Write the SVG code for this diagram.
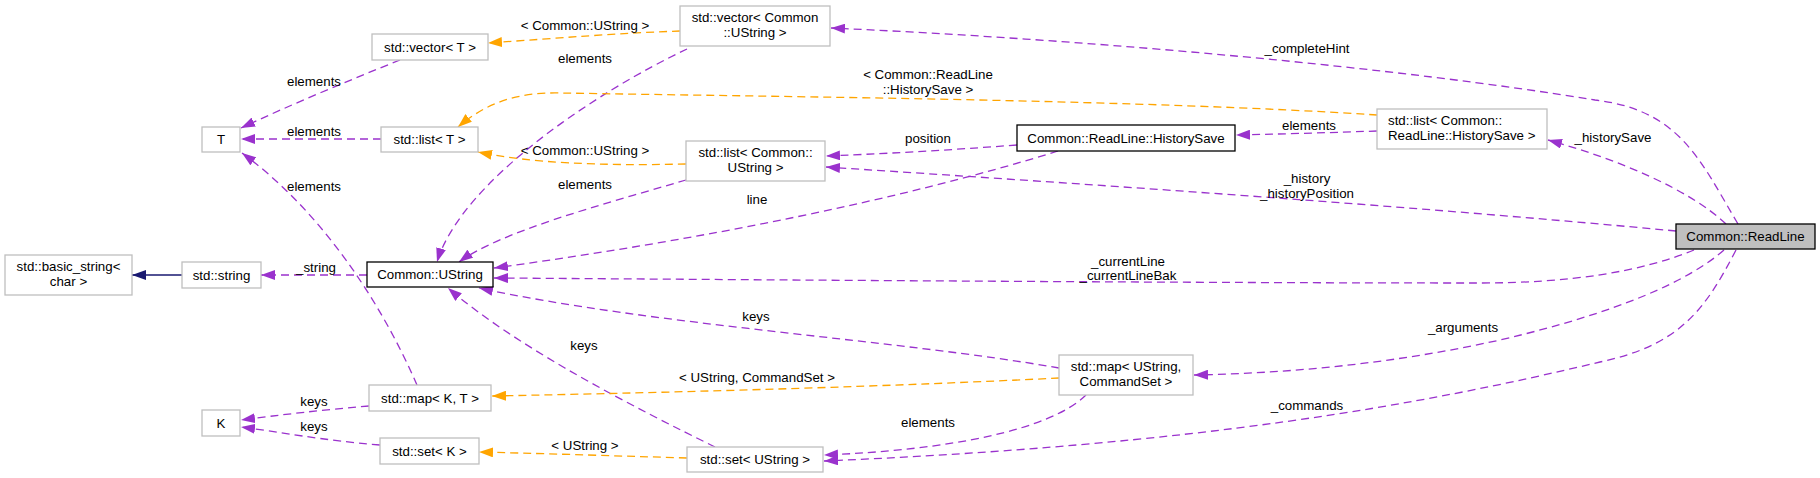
<svg xmlns="http://www.w3.org/2000/svg" width="1820" height="478" viewBox="0 0 1820 478">
<style>
text{font-family:"Liberation Sans",Arial,sans-serif;font-size:13.3px;fill:#000}
.n rect{fill:#fff;stroke:#bfbfbf;stroke-width:1.3}
.n.b rect{stroke:#000}
.n.g rect{fill:#bfbfbf;stroke:#000}
.n text{text-anchor:middle}
.n.l text{text-anchor:start}
.e path{fill:none;stroke-width:1.3}
.p{stroke:#9a32cd;stroke-dasharray:8,5;marker-end:url(#ap)}
.o{stroke:#ffa500;stroke-dasharray:8,5;marker-end:url(#ao)}
.s{stroke:#191970;marker-end:url(#as)}
.lb text{text-anchor:middle}
</style>
<defs>
<marker id="ap" markerUnits="userSpaceOnUse" markerWidth="14" markerHeight="10" refX="14" refY="5" orient="auto"><path d="M0,0L14,5L0,10z" fill="#9a32cd"/></marker>
<marker id="ao" markerUnits="userSpaceOnUse" markerWidth="14" markerHeight="10" refX="14" refY="5" orient="auto"><path d="M0,0L14,5L0,10z" fill="#ffa500"/></marker>
<marker id="as" markerUnits="userSpaceOnUse" markerWidth="14" markerHeight="10" refX="14" refY="5" orient="auto"><path d="M0,0L14,5L0,10z" fill="#191970"/></marker>
</defs>
<rect width="1820" height="478" fill="#fff"/>
<g id="connectors" class="e">
<path class="o" d="M680,31C620,33 560,38 488,43"/>
<path class="p" d="M687,49C600,90 462,180 437,262"/>
<path class="p" d="M686,180C600,205 500,232 459,262"/>
<path class="p" d="M1058,151C900,200 700,240 494,268"/>
<path class="p" d="M1694,250C1640,272 1570,283 1480,283C1200,283 800,280 494,278"/>
<path class="p" d="M1059,368C900,340 650,325 479,288"/>
<path class="p" d="M715,447C640,410 520,350 448,288"/>
<path class="o" d="M1059,378C900,386 700,392 492,396"/>
<path class="p" d="M1086,395C1050,430 950,450 824,455"/>
<path class="p" d="M1736,250C1705,310 1680,345 1600,362C1420,405 1200,445 824,461"/>
<path class="p" d="M1724,250C1690,280 1620,312 1500,340C1400,362 1300,373 1194,375"/>
<path class="p" d="M1738,224C1700,160 1680,110 1595,100C1400,68 1100,40 831,28"/>
<path class="p" d="M1726,224C1690,190 1620,160 1548,140"/>
<path class="p" d="M1676,231C1400,205 1100,185 826,167"/>
<path class="p" d="M1017,145C950,150 900,153 826,156"/>
<path class="p" d="M1377,131C1320,133 1280,134 1236,135"/>
<path class="o" d="M1377,115C1150,100 800,97 560,93C515,92 485,104 458,127"/>
<path class="o" d="M686,164C600,166 530,163 478,152"/>
<path class="p" d="M400,60C350,80 290,105 241,128"/>
<path class="p" d="M381,139L241,139"/>
<path class="p" d="M417,385C380,300 320,210 242,153"/>
<path class="s" d="M182,275L132,275"/>
<path class="p" d="M367,275L261,275"/>
<path class="p" d="M369,406C320,410 280,415 241,420"/>
<path class="p" d="M380,445C320,440 280,432 241,427"/>
<path class="o" d="M687,458C620,456 560,454 479,452"/>
</g>
<g id="labels" class="lb">
<text x="585" y="30">&lt; Common::UString &gt;</text>
<text x="585" y="63">elements</text>
<text x="585" y="189">elements</text>
<text x="585" y="155">&lt; Common::UString &gt;</text>
<text x="757" y="204">line</text>
<text x="1128" y="266">_currentLine</text>
<text x="1128" y="280">_currentLineBak</text>
<text x="756" y="321">keys</text>
<text x="584" y="350">keys</text>
<text x="757" y="382">&lt; UString, CommandSet &gt;</text>
<text x="928" y="427">elements</text>
<text x="1307" y="410">_commands</text>
<text x="1463" y="332">_arguments</text>
<text x="1307" y="53">_completeHint</text>
<text x="1613" y="142">_historySave</text>
<text x="1307" y="183">_history</text>
<text x="1307" y="198">_historyPosition</text>
<text x="928" y="143">position</text>
<text x="1309" y="130">elements</text>
<text x="928" y="79">&lt; Common::ReadLine</text>
<text x="928" y="94">::HistorySave &gt;</text>
<text x="314" y="86">elements</text>
<text x="314" y="136">elements</text>
<text x="314" y="191">elements</text>
<text x="316" y="272">_string</text>
<text x="314" y="406">keys</text>
<text x="314" y="431">keys</text>
<text x="585" y="450">&lt; UString &gt;</text>
</g>
<g id="n_vectorT" class="n"><rect x="372" y="34" width="116" height="26"/><text x="430" y="51.5">std::vector&lt; T &gt;</text></g>
<g id="n_T" class="n"><rect x="202" y="127" width="38" height="25"/><text x="221" y="144">T</text></g>
<g id="n_listT" class="n"><rect x="381" y="127" width="97" height="25"/><text x="429.5" y="144">std::list&lt; T &gt;</text></g>
<g id="n_vectorCU" class="n"><rect x="680" y="6" width="150" height="40"/><text x="755" y="22">std::vector&lt; Common</text><text x="755" y="37">::UString &gt;</text></g>
<g id="n_listCU" class="n"><rect x="686" y="141" width="139" height="40"/><text x="755.5" y="157">std::list&lt; Common::</text><text x="755.5" y="172">UString &gt;</text></g>
<g id="n_historySave" class="n b"><rect x="1017" y="125" width="218" height="26"/><text x="1126" y="142.5">Common::ReadLine::HistorySave</text></g>
<g id="n_listHS" class="n l"><rect x="1377" y="109" width="170" height="40"/><text x="1388" y="125">std::list&lt; Common::</text><text x="1388" y="140">ReadLine::HistorySave &gt;</text></g>
<g id="n_readLine" class="n g"><rect x="1676" y="224" width="139" height="25"/><text x="1745.5" y="241">Common::ReadLine</text></g>
<g id="n_basicString" class="n"><rect x="5" y="255" width="127" height="40"/><text x="68.5" y="271">std::basic_string&lt;</text><text x="68.5" y="286">char &gt;</text></g>
<g id="n_string" class="n"><rect x="182" y="262" width="79" height="26"/><text x="221.5" y="279.5">std::string</text></g>
<g id="n_ustring" class="n b"><rect x="367" y="262" width="126" height="25"/><text x="430" y="279">Common::UString</text></g>
<g id="n_mapKT" class="n"><rect x="369" y="385" width="122" height="26"/><text x="430" y="402.5">std::map&lt; K, T &gt;</text></g>
<g id="n_K" class="n"><rect x="202" y="410" width="38" height="26"/><text x="221" y="427.5">K</text></g>
<g id="n_setK" class="n"><rect x="380" y="438" width="99" height="26"/><text x="429.5" y="455.5">std::set&lt; K &gt;</text></g>
<g id="n_mapUSCS" class="n"><rect x="1059" y="355" width="134" height="40"/><text x="1126" y="371">std::map&lt; UString,</text><text x="1126" y="386">CommandSet &gt;</text></g>
<g id="n_setUS" class="n"><rect x="687" y="447" width="136" height="25"/><text x="755" y="464">std::set&lt; UString &gt;</text></g>
</svg>
